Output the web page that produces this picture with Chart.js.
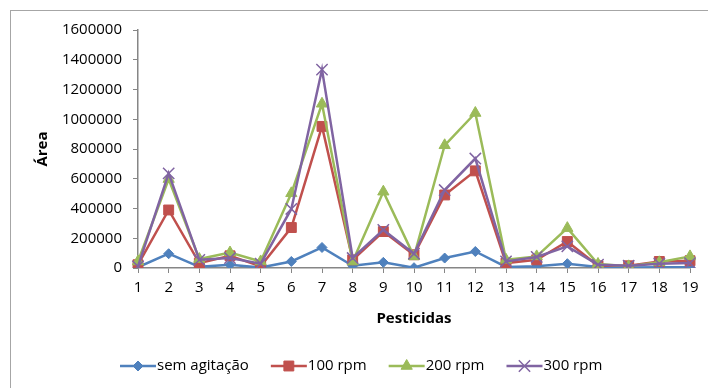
<!DOCTYPE html>
<html>
<head>
<meta charset="utf-8">
<script src="https://cdn.jsdelivr.net/npm/chart.js@4"></script>
<style>
  html, body { margin: 0; padding: 0; background: #fff; }
  #wrap { width: 708px; height: 388px; position: relative; }
</style>
</head>
<body>
<div id="wrap"><canvas id="chart_1"></canvas></div>
<script>
const pesticidas = ['1','2','3','4','5','6','7','8','9','10','11','12','13','14','15','16','17','18','19'];
const semAgitacao = [5000, 96000, 8000, 22000, 3000, 44000, 138000, 15000, 38000, 2000, 67000, 111000, 7000, 11000, 29000, 7000, 3000, 5000, 5000];
const rpm100 = [22000, 390000, 33000, 82000, 11000, 272000, 952000, 55000, 245000, 89000, 491000, 653000, 33000, 55000, 178000, 15000, 15000, 44000, 49000];
const rpm200 = [44000, 598000, 60000, 104000, 44000, 502000, 1104000, 44000, 513000, 78000, 825000, 1042000, 55000, 78000, 268000, 27000, 11000, 38000, 78000];
const rpm300 = [11000, 636000, 55000, 67000, 29000, 397000, 1334000, 67000, 256000, 96000, 524000, 736000, 44000, 74000, 145000, 22000, 15000, 29000, 33000];
const yTicks = [0, 200000, 400000, 600000, 800000, 1000000, 1200000, 1400000, 1600000];

const FONT = "'Open Sans', sans-serif";

function serie(label, data, color, style, radius, order) {
    return {
        label: label,
        data: data,
        borderColor: color,
        backgroundColor: color,
        borderWidth: 2.5,
        pointStyle: style,
        pointRadius: radius,
        pointBackgroundColor: color,
        pointBorderColor: color,
        pointBorderWidth: style === 'crossRot' ? 1.5 : 1,
        tension: 0,
        order: order
    };
}

// legenda desenhada à mão: linha + marcador, como no Excel
const legendaLinha = {
    id: 'legendaLinha',
    afterDraw(chart) {
        const ctx = chart.ctx;
        ctx.save();
        ctx.font = '15px ' + FONT;
        ctx.textBaseline = 'middle';
        let x = 120;
        const y = 366;
        chart.data.datasets.forEach(ds => {
            ctx.strokeStyle = ds.borderColor;
            ctx.lineWidth = 2.5;
            ctx.beginPath();
            ctx.moveTo(x, y);
            ctx.lineTo(x + 36, y);
            ctx.stroke();
            ctx.fillStyle = ds.borderColor;
            ctx.lineWidth = ds.pointBorderWidth;
            Chart.helpers.drawPoint(ctx, {pointStyle: ds.pointStyle, radius: ds.pointRadius, rotation: 0, borderWidth: ds.pointBorderWidth}, x + 18, y);
            ctx.fillStyle = '#000';
            ctx.fillText(ds.label, x + 37, y);
            x += 37 + ctx.measureText(ds.label).width + 22;
        });
        ctx.restore();
    }
};

const moldura = {
    id: 'moldura',
    beforeDraw(chart) {
        const ctx = chart.ctx;
        ctx.save();
        ctx.fillStyle = '#fff';
        ctx.fillRect(0, 0, chart.width, chart.height);
        ctx.strokeStyle = '#a6a6a6';
        ctx.lineWidth = 1;
        ctx.strokeRect(10.5, 10.5, chart.width, chart.height);
        ctx.restore();
    }
};

const ctx = document.getElementById('chart_1');
new Chart(ctx, {
    type: 'line',
    data: {
        labels: pesticidas,
        datasets: [
            serie('sem agitação', semAgitacao, '#4F81BD', 'rectRot', 5, 4),
            serie('100 rpm', rpm100, '#C0504D', 'rect', 7, 3),
            serie('200 rpm', rpm200, '#9BBB59', 'triangle', 6.5, 2),
            serie('300 rpm', rpm300, '#8064A2', 'crossRot', 8, 1)
        ]
    },
    options: {
        responsive: true,
        maintainAspectRatio: false,
        animation: false,
        layout: { padding: { left: 0, top: 30, right: 18, bottom: 0 } },
        plugins: {
            legend: { display: false },
            tooltip: { enabled: false }
        },
        scales: {
            x: {
                offset: false,
                grid: { drawOnChartArea: false, tickLength: 5, color: '#868686' },
                border: { color: '#868686', width: 1.5 },
                ticks: { color: '#000', font: { family: FONT, size: 15 }, padding: 6, maxRotation: 0, autoSkip: false },
                title: {
                    display: true, text: 'Pesticidas', color: '#000',
                    font: { family: FONT, size: 15, weight: 'bold' },
                    padding: { top: 0, bottom: 60 }
                },
                afterFit(scale) { scale.height = 120; }
            },
            y: {
                min: 0,
                max: 1600000,
                grid: { drawOnChartArea: false, tickLength: 5, color: '#868686' },
                border: { color: '#868686', width: 1.5 },
                afterBuildTicks(scale) { scale.ticks = yTicks.map(v => ({ value: v })); },
                ticks: {
                    color: '#000', font: { family: FONT, size: 15 }, padding: 11,
                    callback: v => String(v)
                },
                title: {
                    display: true, text: 'Área', color: '#000',
                    font: { family: FONT, size: 15, weight: 'bold' },
                    padding: { top: 34, bottom: 0 }
                },
                afterFit(scale) { scale.width = 138; }
            }
        }
    },
    plugins: [moldura, legendaLinha]
});
</script>
</body>
</html>
